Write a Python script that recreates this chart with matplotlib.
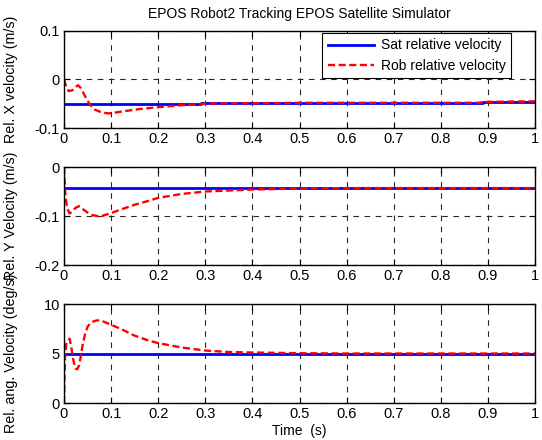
import numpy as np
import matplotlib.pyplot as plt

plt.rcParams['font.family'] = ['Liberation Sans', 'DejaVu Sans']

# time samples
t_x = [0, 0.005, 0.01, 0.018, 0.025, 0.03, 0.036, 0.045, 0.055, 0.065, 0.08, 0.095,
       0.11, 0.13, 0.16, 0.2, 0.25, 0.3, 0.35, 0.4, 0.5, 0.6, 0.7, 0.8, 0.88, 0.9, 1.0]
rob_x = [0.0, -0.015, -0.024, -0.022, -0.015, -0.012, -0.018, -0.035, -0.052, -0.062,
         -0.068, -0.07, -0.068, -0.065, -0.061, -0.057, -0.053, -0.05, -0.049, -0.049,
         -0.048, -0.048, -0.048, -0.048, -0.048, -0.046, -0.045]
t_sat_x = [0, 0.29, 0.29, 0.89, 0.89, 1.0]
sat_x = [-0.05, -0.05, -0.048, -0.048, -0.046, -0.046]

t_y = [0, 0.003, 0.007, 0.012, 0.018, 0.025, 0.032, 0.04, 0.05, 0.06, 0.07, 0.08, 0.09,
       0.1, 0.12, 0.15, 0.18, 0.2, 0.25, 0.3, 0.35, 0.4, 0.5, 0.6, 0.8, 1.0]
rob_y = [0.0, -0.06, -0.085, -0.095, -0.09, -0.083, -0.08, -0.086, -0.093, -0.098,
         -0.1, -0.1, -0.097, -0.094, -0.087, -0.077, -0.069, -0.063, -0.055, -0.05,
         -0.048, -0.046, -0.044, -0.043, -0.043, -0.043]
t_sat_y = [0, 1.0]
sat_y = [-0.043, -0.043]

t_w = [0, 0.002, 0.005, 0.009, 0.012, 0.016, 0.02, 0.024, 0.028, 0.032, 0.036, 0.04,
       0.045, 0.05, 0.055, 0.06, 0.07, 0.08, 0.09, 0.1, 0.12, 0.15, 0.18, 0.2, 0.25,
       0.3, 0.35, 0.4, 0.5, 0.6, 0.8, 1.0]
rob_w = [0.0, 4.5, 6.0, 6.3, 6.5, 5.5, 4.3, 3.5, 3.4, 3.8, 4.8, 6.0, 7.0, 7.7, 8.0,
         8.2, 8.35, 8.3, 8.1, 7.9, 7.5, 6.8, 6.3, 6.05, 5.6, 5.3, 5.15, 5.1, 5.03, 5.0,
         5.0, 5.0]
t_sat_w = [0, 1.0]
sat_w = [5.0, 5.0]

x_ticks = [0, 0.1, 0.2, 0.3, 0.4, 0.5, 0.6, 0.7, 0.8, 0.9, 1]
x_labels = ['0', '0.1', '0.2', '0.3', '0.4', '0.5', '0.6', '0.7', '0.8', '0.9', '1']

fig = plt.figure(figsize=(5.42, 4.4), dpi=100)
L, W = 64 / 542, 471 / 542
ax1 = fig.add_axes([L, 1 - 128 / 440, W, 97 / 440])
ax2 = fig.add_axes([L, 1 - 265 / 440, W, 98 / 440])
ax3 = fig.add_axes([L, 1 - 403 / 440, W, 99 / 440])

panels = [
    (ax1, t_sat_x, sat_x, t_x, rob_x, (-0.1, 0.1), [-0.1, 0, 0.1], ['-0.1', '0', '0.1'],
     'Rel. X velocity (m/s)'),
    (ax2, t_sat_y, sat_y, t_y, rob_y, (-0.2, 0), [-0.2, -0.1, 0], ['-0.2', '-0.1', '0'],
     'Rel. Y Velocity (m/s)'),
    (ax3, t_sat_w, sat_w, t_w, rob_w, (0, 10), [0, 5, 10], ['0', '5', '10'],
     'Rel. ang. Velocity (deg/s)'),
]

for ax, ts, s, tr, r, ylim, yt, ytl, ylab in panels:
    ax.plot(ts, s, color='#0000ff', lw=2, label='Sat relative velocity')
    ax.plot(tr, r, color='#ff0000', lw=1.7, ls=(0, (3, 1.5)), label='Rob relative velocity')
    ax.set_xlim(0, 1)
    ax.set_ylim(*ylim)
    ax.set_xticks(x_ticks)
    ax.set_xticklabels(x_labels)
    ax.set_yticks(yt)
    ax.set_yticklabels(ytl)
    ax.grid(True, color='#262626', ls=(0, (5, 5)), lw=0.8)
    ax.tick_params(direction='in', top=True, right=True, labelsize=10.5, length=4,
                   pad=3, width=0.8)
    for sp in ax.spines.values():
        sp.set_linewidth(1.0)
    ax.set_ylabel(ylab, fontsize=10.3)
    ax.yaxis.set_label_coords(-0.098, 0.5)

leg = ax1.legend(loc='upper right', bbox_to_anchor=(0.949, 0.98), fontsize=10,
                 frameon=True, fancybox=False, edgecolor='k', framealpha=1,
                 handlelength=3.3, handletextpad=0.5, borderpad=0.4,
                 labelspacing=0.45, borderaxespad=0)
leg.get_frame().set_linewidth(0.8)

fig.text(L + W / 2, 1 - 14 / 440, 'EPOS Robot2 Tracking EPOS Satellite Simulator',
         ha='center', va='center', fontsize=10)
ax3.set_xlabel('Time  (s)', fontsize=10, labelpad=2)

fig.savefig('out.png', dpi=100)
